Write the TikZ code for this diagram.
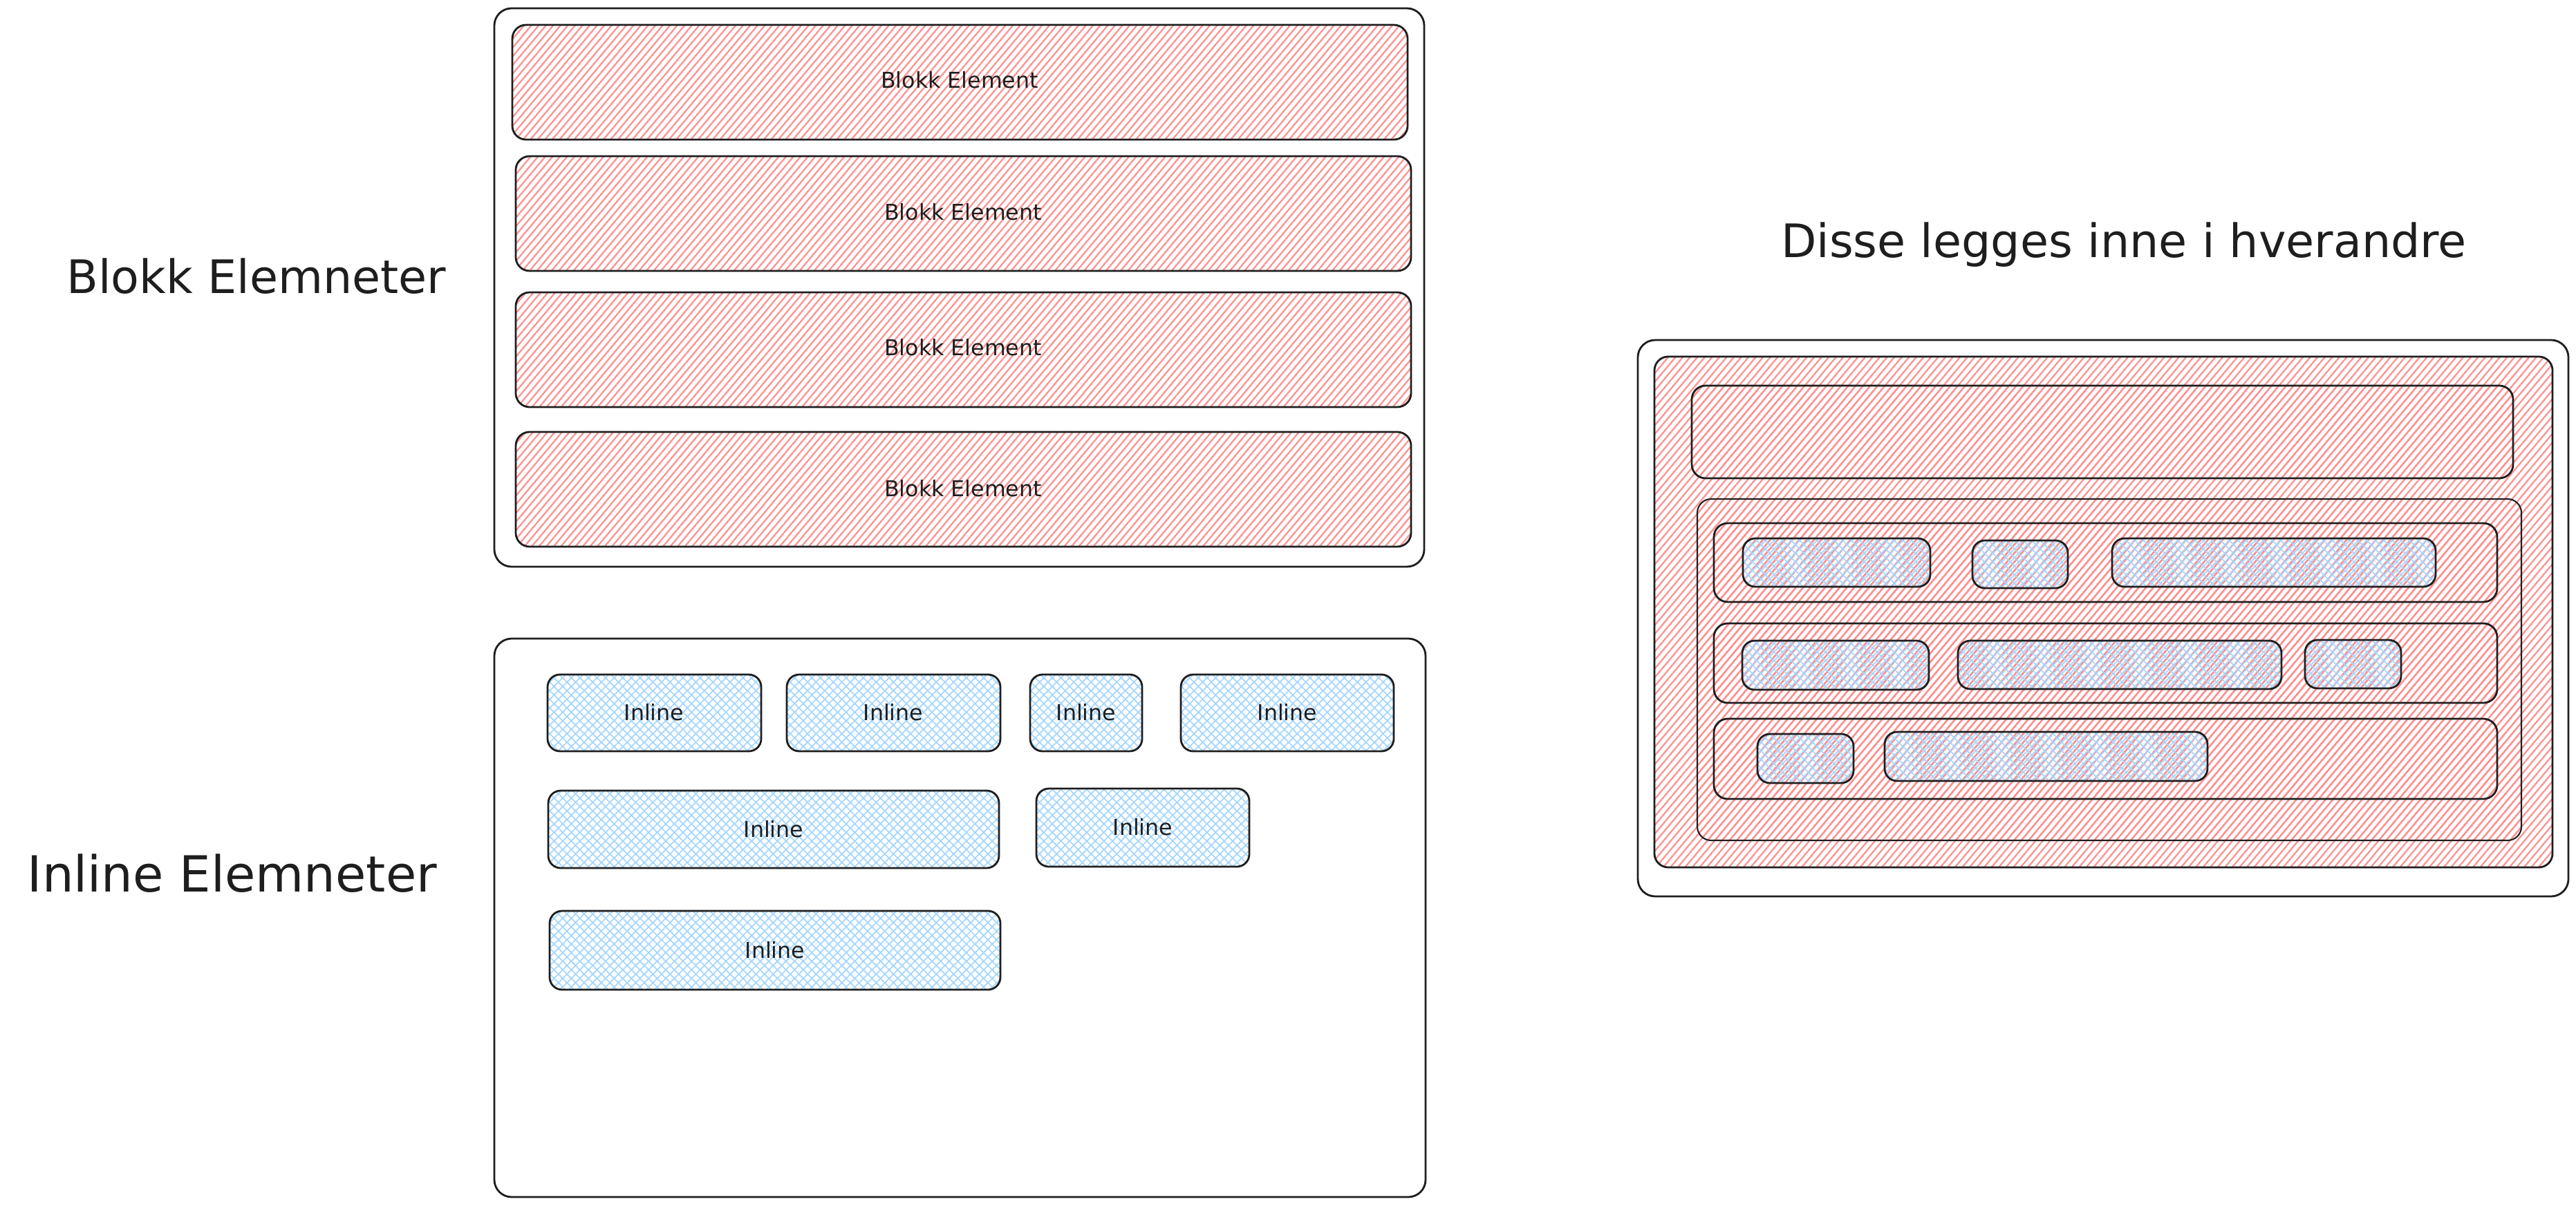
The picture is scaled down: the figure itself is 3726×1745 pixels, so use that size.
\documentclass[tikz,border=0pt]{standalone}
\usepackage{fontspec}
\setmainfont{DejaVu Sans}
\usetikzlibrary{patterns.meta}
\definecolor{ink}{HTML}{1E1E1E}
\definecolor{rosa}{RGB}{255,145,145}
\definecolor{himmel}{RGB}{165,214,255}

\begin{document}
\begin{tikzpicture}[x=0.1mm, y=-0.1mm,
  ramme/.style={draw=ink, line width=0.8pt, rounded corners=2.5mm},
  blokk/.style={ramme, rounded corners=2mm, pattern={Lines[angle=50,distance=2.3pt,line width=0.65pt]}, pattern color=rosa},
  inl/.style={ramme, rounded corners=1.8mm, pattern={Hatch[angle=45,distance=2.5pt,line width=0.5pt]}, pattern color=himmel},
  stor/.style={font=\fontsize{19}{22}\selectfont, text=ink, anchor=base},
  liten/.style={font=\fontsize{9}{11}\selectfont, text=ink}]
\useasboundingbox (0,0) rectangle (3726,1745);

% venstre: blokk-elementer
\draw[ramme] (715,12) rectangle (2060,820);
\draw[blokk] (741,36) rectangle (2036,202);
\draw[blokk] (746,226) rectangle (2041,392);
\draw[blokk] (746,423) rectangle (2041,589);
\draw[blokk] (746,625) rectangle (2041,791);
\node[liten] (blokk1) at (1388,116) {Blokk Element};
\node[liten] (blokk2) at (1393,307) {Blokk Element};
\node[liten] (blokk3) at (1393,503) {Blokk Element};
\node[liten] (blokk4) at (1393,707) {Blokk Element};
\node[stor] (blokktittel) at (371,424) {Blokk Elemneter};

% venstre: inline-elementer
\draw[ramme] (715,924) rectangle (2062,1732);
\draw[inl] (792,976) rectangle (1101,1087);
\draw[inl] (1138,976) rectangle (1447,1087);
\draw[inl] (1490,976) rectangle (1652,1087);
\draw[inl] (1708,976) rectangle (2016,1087);
\draw[inl] (793,1144) rectangle (1445,1256);
\draw[inl] (1499,1141) rectangle (1807,1254);
\draw[inl] (795,1318) rectangle (1447,1432);
\node[liten] (inl1) at (946,1031) {Inline};
\node[liten] (inl2) at (1292,1031) {Inline};
\node[liten] (inl3) at (1571,1031) {Inline};
\node[liten] (inl4) at (1862,1031) {Inline};
\node[liten] (inl5) at (1119,1200) {Inline};
\node[liten] (inl6) at (1653,1197) {Inline};
\node[liten] (inl7) at (1121,1375) {Inline};
\node[stor, font=\fontsize{20.5}{24}\selectfont] (inltittel) at (336,1290) {Inline Elemneter};

% hoyre: nesting
\node[stor] (nesttittel) at (3072,372) {Disse legges inne i hverandre};
\draw[ramme] (2369,492) rectangle (3715,1297);
\draw[blokk] (2393,516) rectangle (3692,1255);
\draw[blokk] (2447,558) rectangle (3635,692);
\draw[blokk, line width=0.6pt] (2455,722) rectangle (3647,1216);
\draw[blokk] (2479,757) rectangle (3612,871);
\draw[blokk] (2479,902) rectangle (3612,1017);
\draw[blokk] (2479,1040) rectangle (3612,1156);
\draw[inl] (2521,779) rectangle (2792,849);
\draw[inl] (2853,782) rectangle (2991,851);
\draw[inl] (3055,779) rectangle (3523,849);
\draw[inl] (2520,927) rectangle (2790,998);
\draw[inl] (2832,927) rectangle (3300,997);
\draw[inl] (3334,926) rectangle (3473,996);
\draw[inl] (2542,1062) rectangle (2681,1133);
\draw[inl] (2726,1059) rectangle (3193,1130);
\end{tikzpicture}
\end{document}
